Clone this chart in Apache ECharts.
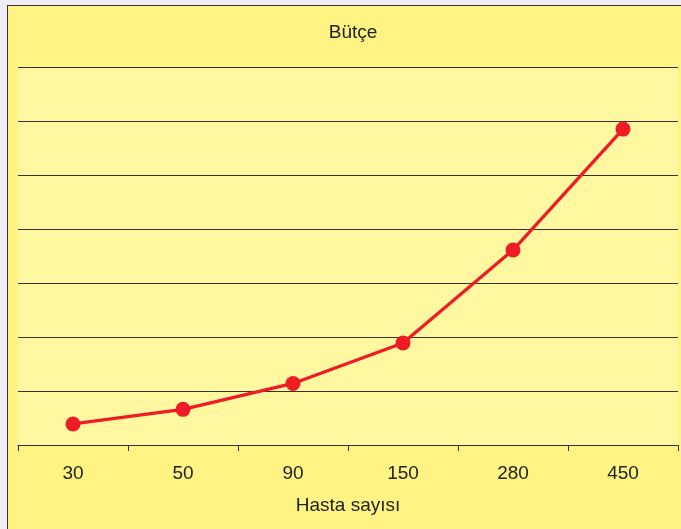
<!DOCTYPE html>
<html>
<head>
<meta charset="utf-8">
<script src="https://cdn.jsdelivr.net/npm/echarts@6/dist/echarts.min.js"></script>
<style>
  html, body { margin: 0; padding: 0; background: #EFEEF8; }
  #frame { position: absolute; left: 7px; top: 5px; width: 674px; height: 524px;
           background: #FFF383; border-left: 1px solid #333; border-top: 1px solid #333; box-sizing: border-box; }
  #chart { position: absolute; left: 0; top: 0; width: 681px; height: 529px; }
</style>
</head>
<body>
<div id="frame"></div>
<div id="chart"></div>
<script>
const titleText = 'Bütçe';
const xAxisName = 'Hasta sayısı';
const categories = ['30', '50', '90', '150', '280', '450'];
const budget = [0.39, 0.66, 1.14, 1.89, 3.61, 5.85];

const chart = echarts.init(document.getElementById('chart'), null, { renderer: 'canvas' });
const font = '"Liberation Sans", Arial, sans-serif';
chart.setOption({
  backgroundColor: 'transparent',
  animation: false,
  title: {
    text: titleText,
    left: 348,
    top: 18,
    textAlign: 'center',
    textStyle: { fontFamily: font, fontSize: 19, fontWeight: 'normal', color: '#222' }
  },
  grid: {
    left: 18, top: 67, right: 3, bottom: 84,
    show: true, backgroundColor: '#FFF8A1', borderWidth: 0
  },
  xAxis: {
    type: 'category',
    data: categories,
    boundaryGap: true,
    name: xAxisName,
    nameLocation: 'middle',
    nameGap: 51,
    nameTextStyle: { fontFamily: font, fontSize: 19, color: '#222' },
    axisLine: { show: true, lineStyle: { color: '#333', width: 1 } },
    axisTick: { show: true, length: 6, lineStyle: { color: '#333', width: 1 } },
    axisLabel: { margin: 19, fontFamily: font, fontSize: 19, color: '#222' },
    splitLine: { show: false }
  },
  yAxis: {
    type: 'value',
    min: 0, max: 7, interval: 1,
    axisLine: { show: false },
    axisTick: { show: false },
    axisLabel: { show: false },
    splitLine: { show: true, lineStyle: { color: '#333', width: 1 } }
  },
  series: [{
    type: 'line',
    data: budget,
    symbol: 'circle',
    symbolSize: 15,
    lineStyle: { color: '#EE1C25', width: 3.3 },
    itemStyle: { color: '#EE1C25' }
  }]
});
</script>
</body>
</html>
